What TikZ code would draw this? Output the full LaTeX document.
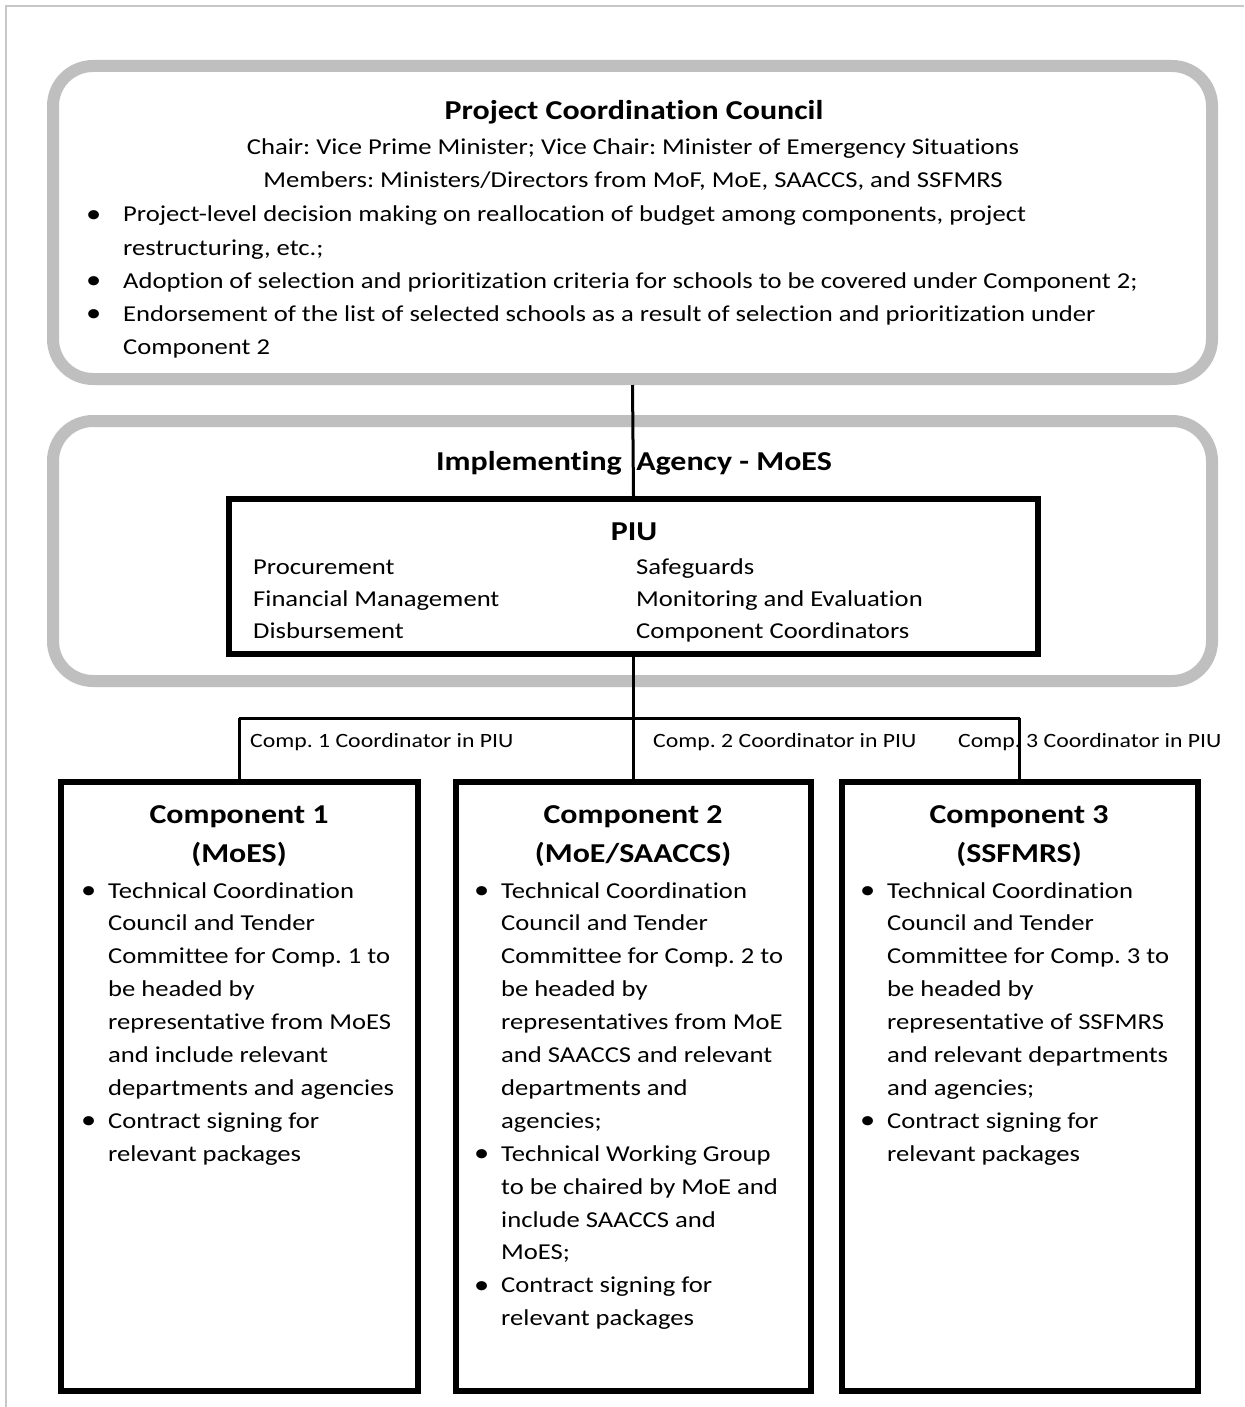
\documentclass[tikz,border=0pt]{standalone}
\usepackage{fontspec}
\setmainfont{Carlito}[FakeStretch=1.17, Ligatures=NoCommon]
\newcommand{\bigbul}{\raisebox{-0.3pt}{\fontsize{26}{0}\selectfont\textbullet}}
\newcommand{\cbul}{\llap{\bigbul\hspace{12pt}}}
\newcommand{\pbul}{\llap{\bigbul\hspace{22pt}}}
\begin{document}
\frenchspacing
\begin{tikzpicture}[x=1pt,y=-1pt,
  graybox/.style={draw=black!25, line width=12pt, rounded corners=40pt, inner sep=0pt},
  blackbox/.style={draw=black, line width=6pt, inner sep=0pt},
  conn/.style={draw=black, line width=3pt},
  body/.style={font=\fontsize{22.75}{33}\selectfont, inner sep=0pt},
  lbl/.style={font=\fontsize{20.3}{24}\selectfont, inner sep=0pt, anchor=base west},
  ttl/.style={font=\fontsize{27.3}{32}\selectfont\bfseries, inner sep=0pt, anchor=base},
  cttl/.style={font=\fontsize{27.3}{39}\selectfont\bfseries, inner sep=0pt, anchor=base}]
\fill[white] (0,0) rectangle (1244,1407);
\useasboundingbox (0,0) rectangle (1244,1407);
\draw[black!22, line width=2pt] (6,1407) -- (6,6) -- (1244,6);

% boxes
\node[graybox, minimum width=1159pt, minimum height=313pt] (pcc) at (632.5,222.5) {};
\node[graybox, minimum width=1159pt, minimum height=260pt] (ia) at (632.5,551) {};
\node[blackbox, minimum width=809pt, minimum height=155pt] (piu) at (633.5,576.5) {};
\node[blackbox, minimum width=357.5pt, minimum height=609.5pt] (c1) at (239.25,1086.25) {};
\node[blackbox, minimum width=355pt, minimum height=609.5pt] (c2) at (633.5,1086.25) {};
\node[blackbox, minimum width=356pt, minimum height=609.5pt] (c3) at (1019.5,1086.25) {};

% PCC text
\node[ttl] (pcct) at (634,120) {Project Coordination Council};
\node[body, anchor=base] (pccc) at (633,155) {Chair: Vice Prime Minister; Vice Chair: Minister of Emergency Situations};
\node[body, anchor=base] (pccm) at (633,188) {Members: Ministers/Directors from MoF, MoE, SAACCS, and SSFMRS};
\foreach \t [count=\i] in {
  {\pbul Project-level decision making on reallocation of budget among components, project},
  {restructuring, etc.;},
  {\pbul Adoption of selection and prioritization criteria for schools to be covered under Component 2;},
  {\pbul Endorsement of the list of selected schools as a result of selection and prioritization under},
  {Component 2}}
  \node[body, anchor=base west] (pccb\i) at (123,{222+33.2*(\i-1)}) {\t};

% Implementing agency
\node[ttl] (iat) at (634,470) {Implementing~ Agency - MoES};
\node[ttl] (piut) at (634,540) {PIU};
\foreach \t [count=\i] in {Procurement, Financial Management, Disbursement}
  \node[body, anchor=base west] (piul\i) at (253,{574+32*(\i-1)}) {\t};
\foreach \t [count=\i] in {Safeguards, Monitoring and Evaluation, Component Coordinators}
  \node[body, anchor=base west] (piur\i) at (636,{574+32*(\i-1)}) {\t};

% coordinator labels
\node[lbl] (l1) at (250,747) {Comp. 1 Coordinator in PIU};
\node[lbl] (l2) at (653,747) {Comp. 2 Coordinator in PIU};
\node[lbl] (l3) at (958,747) {Comp. 3 Coordinator in PIU};

% component titles
\node[cttl] (c1t) at (239,823) {Component 1};
\node[cttl] (c1s) at (239,862) {(MoES)};
\node[cttl] (c2t) at (633,823) {Component 2};
\node[cttl] (c2s) at (633,862) {(MoE/SAACCS)};
\node[cttl] (c3t) at (1019,823) {Component 3};
\node[cttl] (c3s) at (1019,862) {(SSFMRS)};

\foreach \t [count=\i] in {
  {\cbul Technical Coordination}, {Council and Tender}, {Committee for Comp. 1 to},
  {be headed by}, {representative from MoES}, {and include relevant},
  {departments and agencies}, {\cbul Contract signing for}, {relevant packages}}
  \node[body, anchor=base west] (c1l\i) at (108,{898+32.9*(\i-1)}) {\t};
\foreach \t [count=\i] in {
  {\cbul Technical Coordination}, {Council and Tender}, {Committee for Comp. 2 to},
  {be headed by}, {representatives from MoE}, {and SAACCS and relevant},
  {departments and}, {agencies;}, {\cbul Technical Working Group},
  {to be chaired by MoE and}, {include SAACCS and}, {MoES;},
  {\cbul Contract signing for}, {relevant packages}}
  \node[body, anchor=base west] (c2l\i) at (501,{898+32.9*(\i-1)}) {\t};
\foreach \t [count=\i] in {
  {\cbul Technical Coordination}, {Council and Tender}, {Committee for Comp. 3 to},
  {be headed by}, {representative of SSFMRS}, {and relevant departments},
  {and agencies;}, {\cbul Contract signing for}, {relevant packages}}
  \node[body, anchor=base west] (c3l\i) at (887,{898+32.9*(\i-1)}) {\t};

% connectors
\coordinate (j) at (633.5,718);
\draw[conn] (pcc.south) -- (piu.north);
\draw[conn] (piu.south) -- (j);
\draw[conn] (c1.north |- j) -- (c3.north |- j);
\draw[conn] (c1.north |- j) -- (c1.north);
\draw[conn] (j) -- (c2.north);
\draw[conn] (c3.north |- j) -- (c3.north);
\end{tikzpicture}
\end{document}
